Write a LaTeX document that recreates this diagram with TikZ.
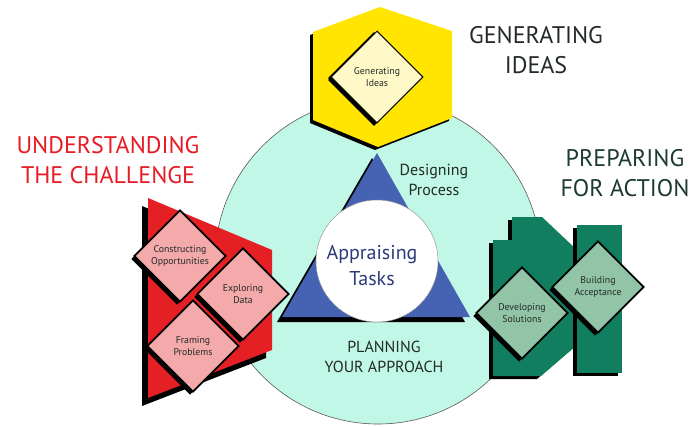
\documentclass[tikz,border=0pt]{standalone}
\usepackage{fontspec}
\setmainfont{PT Sans}
\usetikzlibrary{shapes.geometric,shadows}

\definecolor{mint}{RGB}{193,247,230}
\definecolor{hexyellow}{RGB}{255,229,0}
\definecolor{paleyellow}{RGB}{255,249,200}
\definecolor{triblue}{RGB}{70,98,178}
\definecolor{redpanel}{RGB}{228,32,36}
\definecolor{pinktile}{RGB}{244,170,170}
\definecolor{greenpanel}{RGB}{18,126,96}
\definecolor{sagetile}{RGB}{146,196,168}
\definecolor{inkdark}{RGB}{35,42,40}
\definecolor{inkgreen}{RGB}{28,58,48}
\definecolor{inkred}{RGB}{232,26,36}
\definecolor{inkblue}{RGB}{44,58,122}

\begin{document}
\begin{tikzpicture}[x=1pt,y=-1pt,
  tile/.style={diamond, aspect=1, minimum size=92pt, inner sep=0pt,
    draw=black, line width=1.8pt, align=center, text=inkdark,
    font=\fontsize{9.8}{12}\selectfont,
    general shadow={fill=black, shadow xshift=-3pt, shadow yshift=-3pt}},
  heading/.style={align=center, font=\fontsize{24}{30}\selectfont},
  sublabel/.style={align=center, text=inkdark, font=\fontsize{16}{20}\selectfont}]

\useasboundingbox (0,0) rectangle (691,426);
\fill[white] (0,0) rectangle (691,426);

% central disc
\draw[fill=mint, draw=black!65, line width=0.6pt] (378,261) circle[radius=163pt];

% yellow hexagon with its shadow
\fill[black, shift={(-3,3)}] (380,7) -- (452,31) -- (452,118) -- (378,147) -- (313,120) -- (313,32) -- cycle;
\fill[hexyellow] (380,7) -- (452,31) -- (452,118) -- (378,147) -- (313,120) -- (313,32) -- cycle;

% blue triangle with its shadow
\fill[black, shift={(-5,5)}] (377,153) -- (470,317) -- (282,317) -- cycle;
\fill[triblue] (377,153) -- (470,317) -- (282,317) -- cycle;

% white hub
\draw[fill=white, draw=black!40, line width=0.5pt] (377,261) circle[radius=61pt];

% red panel
\fill[black, shift={(-6,8)}] (148,198) -- (272,250) -- (272,350) -- (148,398) -- cycle;
\fill[redpanel] (148,198) -- (272,250) -- (272,350) -- (148,398) -- cycle;

% green panels
\fill[black, shift={(-4,3)}] (512,217) -- (542,217) -- (577,250) -- (577,345) -- (541,376) -- (493,376) -- (493,240) -- (512,240) -- cycle;
\fill[greenpanel] (512,217) -- (542,217) -- (577,250) -- (577,345) -- (541,376) -- (493,376) -- (493,240) -- (512,240) -- cycle;
\fill[black, shift={(-4,3)}] (577,225) rectangle (622,373);
\fill[greenpanel] (577,225) rectangle (622,373);

% tiles
\node[tile, fill=paleyellow, line width=1pt,
  general shadow={fill=black, shadow xshift=-3pt, shadow yshift=-1pt}] (gen) at (377,77) {Generating\\Ideas};
\node[tile, fill=pinktile] (constr) at (180,256) {Constructing\\Opportunities};
\node[tile, fill=pinktile] (explore) at (243,294) {Exploring\\Data};
\node[tile, fill=pinktile] (frame) at (193,346) {Framing\\Problems};
\node[tile, fill=sagetile] (build) at (598,287) {Building\\Acceptance};
\node[tile, fill=sagetile] (develop) at (522,313) {Developing\\Solutions};

% labels
\node[heading, text=inkdark] (genlabel) at (536,50) {GENERATING\\IDEAS};
\node[heading, text=inkgreen] (preplabel) at (625,173) {PREPARING\\FOR ACTION};
\node[heading, text=inkred] (undlabel) at (108,160) {UNDERSTANDING\\THE CHALLENGE};
\node[sublabel] (design) at (434,180) {Designing\\Process};
\node[sublabel] (plan) at (384,357) {PLANNING\\YOUR APPROACH};
\node[align=center, text=inkblue, font=\fontsize{20}{26}\selectfont] (appraise) at (372,266) {Appraising\\Tasks};
\end{tikzpicture}
\end{document}
